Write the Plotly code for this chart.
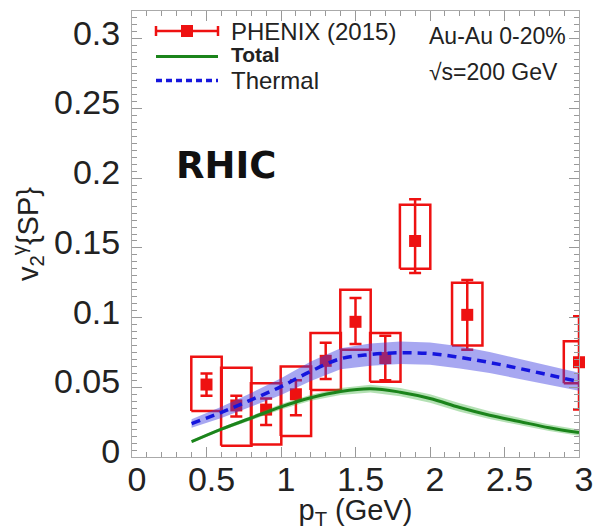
import plotly.graph_objects as go

# ---------------- data ----------------
pt_data = [0.5, 0.7, 0.9, 1.1, 1.3, 1.5, 1.7, 1.9, 2.25, 3.0]
v2_data = [0.052, 0.037, 0.034, 0.045, 0.069, 0.097, 0.071, 0.155, 0.102, 0.068]
stat_up = [0.008, 0.007, 0.008, 0.010, 0.013, 0.017, 0.016, 0.030, 0.025, 0.033]
stat_dn = [0.008, 0.008, 0.011, 0.015, 0.013, 0.016, 0.016, 0.023, 0.025, 0.034]
sys_up = [0.020, 0.027, 0.019, 0.020, 0.020, 0.023, 0.018, 0.026, 0.023, 0.015]
sys_dn = [0.019, 0.029, 0.025, 0.030, 0.021, 0.020, 0.017, 0.020, 0.022, 0.015]
sys_halfwidth = 0.102

pt_curve = [0.4, 0.6, 0.8, 1.0, 1.2, 1.4, 1.6, 1.8, 2.0, 2.2, 2.4, 2.6, 2.8, 3.0]
thermal = [0.024, 0.032, 0.041, 0.0505, 0.0615, 0.0705, 0.0735, 0.0748, 0.0742,
           0.0715, 0.0678, 0.0635, 0.0588, 0.054]
thermal_err = [0.003, 0.004, 0.005, 0.006, 0.007, 0.0075, 0.008, 0.008, 0.008,
               0.008, 0.0075, 0.007, 0.007, 0.0065]
total = [0.011, 0.020, 0.028, 0.036, 0.0425, 0.047, 0.049, 0.0465, 0.042,
         0.0355, 0.030, 0.0255, 0.021, 0.0175]
total_err = [0.001, 0.0012, 0.0015, 0.002, 0.0022, 0.0025, 0.0028, 0.003, 0.003,
             0.003, 0.0028, 0.0026, 0.0024, 0.0022]

x_ticks = [0, 0.5, 1, 1.5, 2, 2.5, 3]
x_ticklabels = ["0", "0.5", "1", "1.5", "2", "2.5", "3"]
y_ticks = [0, 0.05, 0.1, 0.15, 0.2, 0.25, 0.3]
y_ticklabels = ["0", "0.05", "0.1", "0.15", "0.2", "0.25", "0.3"]

RED = "#ee1111"
GREEN = "#1b841b"
BLUE = "#1515dd"

fig = go.Figure()

# systematic boxes
bx, by = [], []
for x, y, su, sd in zip(pt_data, v2_data, sys_up, sys_dn):
    x0, x1 = x - sys_halfwidth, x + sys_halfwidth
    y0, y1 = y - sd, y + su
    bx += [x0, x1, x1, x0, x0, None]
    by += [y0, y0, y1, y1, y0, None]
fig.add_trace(go.Scatter(x=bx, y=by, mode="lines", line=dict(color=RED, width=2.5),
                         showlegend=False, hoverinfo="skip"))

# data points
fig.add_trace(go.Scatter(
    x=pt_data, y=v2_data, mode="markers", name="PHENIX (2015)",
    marker=dict(symbol="square", size=12, color=RED),
    error_y=dict(type="data", array=stat_up, arrayminus=stat_dn, color=RED,
                 thickness=2.5, width=6),
    cliponaxis=False, showlegend=False))

# bands
def band(x, y, e):
    up = [a + b for a, b in zip(y, e)]
    lo = [a - b for a, b in zip(y, e)]
    return x + x[::-1], up + lo[::-1]

tx, ty = band(pt_curve, total, total_err)
fig.add_trace(go.Scatter(x=tx, y=ty, fill="toself", fillcolor="rgba(40,170,40,0.35)",
                         line=dict(width=0), mode="lines", showlegend=False,
                         hoverinfo="skip"))
hx, hy = band(pt_curve, thermal, thermal_err)
fig.add_trace(go.Scatter(x=hx, y=hy, fill="toself", fillcolor="rgba(60,60,225,0.45)",
                         line=dict(width=0), mode="lines", showlegend=False,
                         hoverinfo="skip"))

fig.add_trace(go.Scatter(x=pt_curve, y=total, mode="lines", name="Total",
                         line=dict(color=GREEN, width=3, shape="spline"),
                         showlegend=False))
fig.add_trace(go.Scatter(x=pt_curve, y=thermal, mode="lines", name="Thermal",
                         line=dict(color=BLUE, width=3.5, dash="9px,6px", shape="spline"),
                         showlegend=False))

# ---------------- layout ----------------
W, H = 596, 530
L, R, T, B = 132, 17, 11, 73
pw, ph = W - L - R, H - T - B

def px(xpix):  # reference pixel -> paper
    return (xpix - L) / pw

def py(ypix):
    return (H - B - ypix) / ph

shapes = []
# legend keys
yk = py(31)
shapes.append(dict(type="line", xref="paper", yref="paper", x0=px(156), x1=px(218),
                   y0=yk, y1=yk, line=dict(color=RED, width=2.5)))
for xc in (156, 218):
    shapes.append(dict(type="line", xref="paper", yref="paper", x0=px(xc), x1=px(xc),
                       y0=py(26), y1=py(36), line=dict(color=RED, width=2.5)))
shapes.append(dict(type="rect", xref="paper", yref="paper", x0=px(181), x1=px(193),
                   y0=py(37), y1=py(25), fillcolor=RED, line=dict(width=0)))
shapes.append(dict(type="line", xref="paper", yref="paper", x0=px(156), x1=px(218),
                   y0=py(56.5), y1=py(56.5), line=dict(color=GREEN, width=3)))
shapes.append(dict(type="line", xref="paper", yref="paper", x0=px(156), x1=px(218),
                   y0=py(80.5), y1=py(80.5), line=dict(color=BLUE, width=3.5, dash="6px,4px")))

TXT = "#222222"
annotations = [
    dict(text="PHENIX (2015)", x=px(229), y=py(31), xref="paper", yref="paper",
         xanchor="left", yanchor="middle", showarrow=False,
         font=dict(family="Liberation Sans", size=24, color=TXT)),
    dict(text="<b>Total</b>", x=px(229), y=py(55), xref="paper", yref="paper",
         xanchor="left", yanchor="middle", showarrow=False,
         font=dict(family="Liberation Sans", size=21, color=TXT)),
    dict(text="Thermal", x=px(229), y=py(80), xref="paper", yref="paper",
         xanchor="left", yanchor="middle", showarrow=False,
         font=dict(family="Liberation Sans", size=24, color=TXT)),
    dict(text="Au-Au 0-20%", x=px(427), y=py(36), xref="paper", yref="paper",
         xanchor="left", yanchor="middle", showarrow=False,
         font=dict(family="Liberation Sans", size=23, color=TXT)),
    dict(text="√s=200 GeV", x=px(427), y=py(72), xref="paper", yref="paper",
         xanchor="left", yanchor="middle", showarrow=False,
         font=dict(family="Liberation Sans", size=23, color=TXT)),
    dict(text="<b>RHIC</b>", x=px(174), y=py(165), xref="paper", yref="paper",
         xanchor="left", yanchor="middle", showarrow=False,
         font=dict(family="DejaVu Sans", size=37, color="#111111")),
]

axis_common = dict(
    showline=True, linecolor="#aaaaaa", linewidth=1, mirror="ticks",
    ticks="inside", ticklen=10, tickcolor="#999999", tickwidth=1,
    showgrid=False, zeroline=False, automargin=False,
    tickfont=dict(family="Liberation Sans", size=34, color=TXT),
)

fig.update_layout(
    width=W, height=H,
    margin=dict(l=L, r=R, t=T, b=B, autoexpand=False),
    paper_bgcolor="white", plot_bgcolor="white",
    shapes=shapes, annotations=annotations,
    showlegend=False,
    xaxis=dict(range=[0, 3], tickvals=x_ticks, ticktext=x_ticklabels,
               minor=dict(ticks="inside", dtick=0.1, ticklen=5, tickcolor="#999999"),
               ticklabelshift=5, ticklabelstandoff=-8,
               title=dict(text="p<sub>T</sub> (GeV)", standoff=9,
                          font=dict(family="Liberation Sans", size=29, color=TXT)),
               **axis_common),
    yaxis=dict(range=[0, 0.32], tickvals=y_ticks, ticktext=y_ticklabels,
               minor=dict(ticks="inside", dtick=0.005, ticklen=5, tickcolor="#999999"),
               ticklabelshift=-6, ticklabelstandoff=4,
               title=dict(text="v<sub>2</sub><sup>γ</sup>{SP}", standoff=6,
                          font=dict(family="Liberation Sans", size=29, color=TXT)),
               **axis_common),
)

fig.write_html(
    "out.html",
    config={"displayModeBar": False},
    post_script="document.body.style.margin='0';document.body.style.overflow='hidden';",
)
